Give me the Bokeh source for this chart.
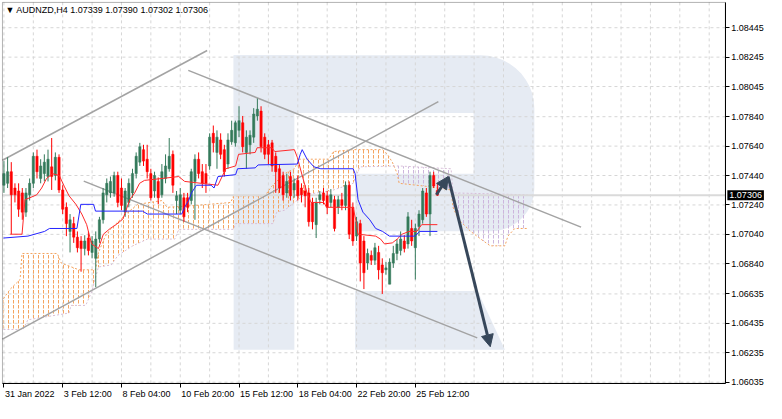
import numpy as np
from bokeh.plotting import figure
from bokeh.models import (FixedTicker, Label, Span, Arrow, NormalHead, Range1d, LinearAxis,
                          BoxAnnotation)
from bokeh.core.properties import value
from bokeh.embed import file_html
from bokeh.resources import INLINE

# ---------------- data (AUDNZD, H4) ----------------
opens = [1.07374, 1.07387, 1.07466, 1.07355, 1.07335, 1.07322, 1.07191, 1.07309, 1.07387, 1.07571,
         1.07420, 1.07453, 1.07433, 1.07499, 1.07440, 1.07564, 1.07342, 1.07224, 1.07060, 1.07113,
         1.07021, 1.06995, 1.06943, 1.07015, 1.06917, 1.06877, 1.07008, 1.07139, 1.07309, 1.07322,
         1.07322, 1.07440, 1.07355, 1.07191, 1.07257, 1.07322, 1.07453, 1.07531, 1.07616, 1.07551,
         1.07453, 1.07335, 1.07400, 1.07309, 1.07420, 1.07486, 1.07584, 1.07270, 1.07204, 1.07289,
         1.07289, 1.07270, 1.07400, 1.07551, 1.07466, 1.07453, 1.07505, 1.07727, 1.07597, 1.07682,
         1.07616, 1.07518, 1.07669, 1.07662, 1.07747, 1.07799, 1.07597, 1.07649, 1.07701, 1.07845,
         1.07878, 1.07701, 1.07649, 1.07662, 1.07571, 1.07486, 1.07440, 1.07322, 1.07433, 1.07342,
         1.07407, 1.07355, 1.07335, 1.07322, 1.07257, 1.07106, 1.07276, 1.07322, 1.07302, 1.07257,
         1.07276, 1.07224, 1.07276, 1.07237, 1.07374, 1.07224, 1.07028, 1.07113, 1.06995, 1.06845,
         1.06897, 1.06864, 1.06917, 1.06832, 1.06799, 1.06701, 1.06845, 1.06910, 1.06930, 1.06995,
         1.06975, 1.07080, 1.06949, 1.07093, 1.07139, 1.07322, 1.07178, 1.07440, 1.07339]
highs = [1.07538, 1.07564, 1.07531, 1.07387, 1.07387, 1.07355, 1.07355, 1.07420, 1.07597, 1.07616,
         1.07551, 1.07584, 1.07616, 1.07695, 1.07597, 1.07584, 1.07374, 1.07257, 1.07178, 1.07159,
         1.07060, 1.07028, 1.07034, 1.07060, 1.07028, 1.07060, 1.07159, 1.07355, 1.07420, 1.07433,
         1.07466, 1.07466, 1.07420, 1.07355, 1.07420, 1.07486, 1.07597, 1.07662, 1.07649, 1.07649,
         1.07486, 1.07466, 1.07427, 1.07518, 1.07584, 1.07695, 1.07610, 1.07335, 1.07355, 1.07322,
         1.07322, 1.07486, 1.07584, 1.07597, 1.07518, 1.07518, 1.07727, 1.07780, 1.07747, 1.07727,
         1.07649, 1.07727, 1.07813, 1.07813, 1.07911, 1.07845, 1.07747, 1.07747, 1.07898, 1.07963,
         1.07911, 1.07727, 1.07682, 1.07682, 1.07597, 1.07518, 1.07466, 1.07453, 1.07466, 1.07420,
         1.07440, 1.07387, 1.07374, 1.07355, 1.07289, 1.07289, 1.07335, 1.07355, 1.07335, 1.07348,
         1.07302, 1.07302, 1.07322, 1.07400, 1.07400, 1.07257, 1.07159, 1.07139, 1.07028, 1.06943,
         1.06930, 1.06982, 1.06962, 1.06877, 1.06851, 1.06877, 1.06962, 1.07008, 1.07060, 1.07034,
         1.07191, 1.07139, 1.07113, 1.07204, 1.07355, 1.07355, 1.07466, 1.07466, 1.07390]
lows = [1.07322, 1.07355, 1.07041, 1.07257, 1.07159, 1.07139, 1.07159, 1.07270, 1.07355, 1.07420,
        1.07387, 1.07400, 1.07400, 1.07342, 1.07407, 1.07322, 1.07178, 1.07028, 1.06917, 1.06982,
        1.06917, 1.06786, 1.06897, 1.06897, 1.06877, 1.06681, 1.06982, 1.07113, 1.07257, 1.07289,
        1.07296, 1.07224, 1.07204, 1.07159, 1.07224, 1.07289, 1.07420, 1.07505, 1.07505, 1.07420,
        1.07270, 1.07289, 1.07244, 1.07289, 1.07387, 1.07466, 1.07322, 1.07178, 1.07178, 1.07126,
        1.07191, 1.07244, 1.07139, 1.07420, 1.07355, 1.07322, 1.07479, 1.07597, 1.07486, 1.07551,
        1.07433, 1.07486, 1.07649, 1.07636, 1.07701, 1.07597, 1.07486, 1.07584, 1.07662, 1.07813,
        1.07597, 1.07551, 1.07518, 1.07466, 1.07322, 1.07322, 1.07270, 1.07289, 1.07270, 1.07289,
        1.07270, 1.07257, 1.07224, 1.07093, 1.07074, 1.07015, 1.07244, 1.07244, 1.07178, 1.07224,
        1.07060, 1.07178, 1.07204, 1.07204, 1.07008, 1.06962, 1.06995, 1.06720, 1.06668, 1.06799,
        1.06832, 1.06832, 1.06733, 1.06635, 1.06766, 1.06701, 1.06812, 1.06864, 1.06897, 1.06917,
        1.06943, 1.06962, 1.06733, 1.07028, 1.07113, 1.07159, 1.07028, 1.07355, 1.07302]
closes = [1.07453, 1.07466, 1.07309, 1.07309, 1.07211, 1.07191, 1.07322, 1.07387, 1.07571, 1.07466,
          1.07505, 1.07531, 1.07551, 1.07433, 1.07564, 1.07342, 1.07211, 1.07113, 1.07139, 1.07021,
          1.06949, 1.06943, 1.06995, 1.06930, 1.06995, 1.07008, 1.07139, 1.07322, 1.07387, 1.07400,
          1.07440, 1.07257, 1.07237, 1.07335, 1.07387, 1.07453, 1.07571, 1.07636, 1.07538, 1.07466,
          1.07289, 1.07440, 1.07289, 1.07466, 1.07505, 1.07571, 1.07374, 1.07302, 1.07309, 1.07159,
          1.07224, 1.07466, 1.07551, 1.07453, 1.07387, 1.07387, 1.07701, 1.07662, 1.07701, 1.07584,
          1.07466, 1.07682, 1.07747, 1.07799, 1.07813, 1.07636, 1.07701, 1.07714, 1.07858, 1.07891,
          1.07636, 1.07584, 1.07584, 1.07505, 1.07466, 1.07355, 1.07309, 1.07400, 1.07302, 1.07387,
          1.07302, 1.07309, 1.07302, 1.07126, 1.07126, 1.07257, 1.07309, 1.07270, 1.07224, 1.07309,
          1.07080, 1.07276, 1.07237, 1.07374, 1.07041, 1.06995, 1.07126, 1.06845, 1.06779, 1.06910,
          1.06864, 1.06949, 1.06799, 1.06779, 1.06812, 1.06851, 1.06910, 1.06975, 1.07008, 1.06943,
          1.07159, 1.06995, 1.07080, 1.07178, 1.07335, 1.07178, 1.07440, 1.07368, 1.07306]

# Ichimoku lines (vertices: bar index, price)
tenkan_x = [1.73, 4.93, 5.73, 7.07, 8.93, 10.27, 11.6, 13.2, 15.07, 16.4, 17.73, 19.6, 21.2, 22.53, 23.87,
            25.73, 27.07, 28.93, 30.53, 32.4, 34.27, 35.6, 36.93, 38.27, 43.07, 47.6, 49.2, 53.73, 58.27,
            60.4, 63.07, 63.87, 68.4, 68.93, 72.93, 73.73, 79.07, 79.87, 81.2, 82.53, 83.6, 87.07, 87.87,
            95.07, 95.87, 96.4, 101.2, 102.53, 103.6, 105.73, 107.07, 108.4, 110.27, 112.4, 113.73, 118]
tenkan_y = [1.07041, 1.07041, 1.07276, 1.07289, 1.07309, 1.07355, 1.07420, 1.07453, 1.07440, 1.07368,
            1.07302, 1.07244, 1.07178, 1.07106, 1.06975, 1.06943, 1.07041, 1.07080, 1.07106, 1.07145,
            1.07276, 1.07322, 1.07387, 1.07407, 1.07420, 1.07433, 1.07400, 1.07387, 1.07374, 1.07486,
            1.07505, 1.07584, 1.07597, 1.07629, 1.07629, 1.07603, 1.07616, 1.07564, 1.07440, 1.07322,
            1.07257, 1.07257, 1.07224, 1.07224, 1.07126, 1.07041, 1.07028, 1.07008, 1.06975, 1.06982,
            1.07008, 1.07041, 1.07060, 1.07060, 1.07106, 1.07106]
kijun_x = [-0.13, 6.53, 11.07, 12.4, 19.87, 20.93, 24.4, 24.93, 37.73, 39.07, 48.4, 49.2, 50.27, 51.07,
           52.4, 56.4, 57.2, 58.27, 63.07, 63.6, 68.4, 69.2, 79.87, 80.67, 81.2, 82.53, 84.4, 86.27,
           95.07, 95.6, 96.4, 97.73, 99.6, 101.2, 103.07, 104.93, 111.87, 113.2, 118]
kijun_y = [1.07015, 1.07028, 1.07060, 1.07080, 1.07080, 1.07244, 1.07244, 1.07198, 1.07198, 1.07178,
           1.07178, 1.07224, 1.07270, 1.07322, 1.07374, 1.07374, 1.07355, 1.07433, 1.07446, 1.07486,
           1.07492, 1.07512, 1.07518, 1.07584, 1.07616, 1.07551, 1.07499, 1.07486, 1.07486, 1.07453,
           1.07276, 1.07191, 1.07139, 1.07080, 1.07060, 1.07028, 1.07028, 1.07060, 1.07060]
span_a_x = [-0.13, 1.73, 4.4, 4.93, 14.53, 15.6, 20.4, 24.93, 25.73, 27.6, 29.2, 31.87, 33.2, 36.4, 43.07,
            44.4, 52.4, 61.73, 62.53, 71.07, 72.93, 76.4, 79.07, 80.4, 88.4, 89.73, 95.07, 103.07, 104.4,
            105.73, 107.07, 107.6, 114.53, 121.73, 122.27, 123.6, 127.07, 130.53, 132.4, 136.4, 137.2,
            139.07, 142.53]
span_a_y = [1.06603, 1.06668, 1.06733, 1.06910, 1.06910, 1.06845, 1.06799, 1.06799, 1.06917, 1.07028,
            1.07080, 1.07145, 1.07178, 1.07244, 1.07270, 1.07224, 1.07237, 1.07257, 1.07302, 1.07302,
            1.07368, 1.07453, 1.07486, 1.07551, 1.07551, 1.07603, 1.07616, 1.07616, 1.07584, 1.07531,
            1.07453, 1.07387, 1.07368, 1.07342, 1.07224, 1.07145, 1.07060, 1.06995, 1.06962, 1.06962,
            1.07028, 1.07080, 1.07080]
span_b_x = [-0.13, 5.2, 6.53, 17.73, 18.27, 22.27, 23.87, 25.73, 29.2, 31.07, 35.07, 39.07, 46.53, 47.6,
            62.53, 63.07, 73.2, 74.27, 76.4, 81.73, 88.93, 95.07, 96.93, 107.6, 121.73, 122.27, 142.53]
span_b_y = [1.06393, 1.06393, 1.06459, 1.06505, 1.06557, 1.06557, 1.06648, 1.06818, 1.06832, 1.06897,
            1.06962, 1.07008, 1.07008, 1.07074, 1.07074, 1.07113, 1.07113, 1.07191, 1.07204, 1.07309,
            1.07335, 1.07387, 1.07499, 1.07505, 1.07486, 1.07322, 1.07309]

# analyst drawings (bar index, price)
trend_x0 = [-0.4, -0.4, 50.19, 21.73]
trend_y0 = [1.07544, 1.06328, 1.08155, 1.07402]
trend_x1 = [55.33, 118.27, 157.12, 128.85]
trend_y1 = [1.08290, 1.07943, 1.07089, 1.06336]
arrow_x = [117.73, 120.93, 132.4]
arrow_y = [1.07309, 1.07433, 1.06276]

x_tick_idx = [0, 16, 32, 48, 64, 80, 96, 112]
x_tick_labels = ["31 Jan 2022", "3 Feb 12:00", "8 Feb 04:00", "10 Feb 20:00",
                 "15 Feb 12:00", "18 Feb 04:00", "22 Feb 20:00", "25 Feb 12:00"]
y_tick_labels = ["1.06035", "1.06235", "1.06435", "1.06635", "1.06840", "1.07040", "1.07240",
                 "1.07440", "1.07640", "1.07840", "1.08045", "1.08245", "1.08445"]
last_price = 1.07306
last_price_text = "1.07306"
title_text = "\u25bc AUDNZD,H4  1.07339 1.07390 1.07302 1.07306"

# ---------------- styling / layout ----------------
BULL = "#347a5b"
BEAR = "#ff0000"
FONT = "Liberation Sans"
WM = "#e6ebf3"

# chart area (bar index / price) and whole canvas range
CX0, CX1 = -0.4, 196.4
CY0, CY1 = 1.06027, 1.08617
VX0, VX1 = -0.933, 207.6
VY0, VY1 = 1.05890, 1.08630

p = figure(width=766, height=403, x_range=Range1d(VX0, VX1), y_range=Range1d(VY0, VY1),
           x_axis_location=None, y_axis_location=None, output_backend="svg", toolbar_location=None,
           min_border_left=0, min_border_top=0, min_border_right=0, min_border_bottom=0,
           background_fill_color="white", border_fill_color="white")
p.outline_line_color = None
p.xgrid.visible = False
p.ygrid.visible = False

# watermark logo (decoration placed by reference-pixel helper)
def px_i(x):
    return (x - 3.5) / 3.75

def px_p(y):
    return 1.07322 + (200 - y) * 0.0000654

t = np.linspace(0, np.pi / 2, 12)
bowl = [(238, 57), (490, 57)]
bowl += [(490 + 55 * np.sin(a), 112 - 55 * np.cos(a)) for a in t]
bowl += [(545, 195)]
bowl += [(500 + 45 * np.cos(a), 195 + 45 * np.sin(a)) for a in t]
bowl += [(362, 240), (362, 180), (483, 180), (483, 117), (238, 117)]
leftbar = [(238, 57), (300, 57), (300, 363), (238, 363)]
leg = [(362, 302), (487, 302), (515, 363), (362, 363)]
polys = [bowl, leftbar, leg]
p.patches([[px_i(a) for a, b in pl] for pl in polys], [[px_p(b) for a, b in pl] for pl in polys],
          fill_color=WM, line_color=None)

# grid (dashed, inside chart area only)
y_ticks = [float(s) for s in y_tick_labels]
grid_x = list(range(0, 193, 8))
p.segment(grid_x, [CY0] * len(grid_x), grid_x, [CY1] * len(grid_x),
          line_color="#d6d6d6", line_dash="3 3", line_width=1)
p.segment([CX0] * len(y_ticks), y_ticks, [CX1] * len(y_ticks), y_ticks,
          line_color="#d6d6d6", line_dash="3 3", line_width=1)

# cloud
xx = np.arange(span_a_x[0], span_a_x[-1] + 0.001, 0.05)
A = np.interp(xx, span_a_x, span_a_y)
B = np.interp(xx, span_b_x, span_b_y)
top = np.maximum(A, B)
p.varea(x=xx, y1=B, y2=top, fill_alpha=0, hatch_pattern="vertical_dash",
        hatch_color="#f4a460", hatch_scale=5, hatch_weight=1)
p.varea(x=xx, y1=A, y2=top, fill_alpha=0, hatch_pattern="vertical_dash",
        hatch_color="#cdb5dd", hatch_scale=5, hatch_weight=1)
p.line(span_a_x, span_a_y, line_color="#f4a460", line_dash="2 2", line_width=1)
p.line(span_b_x, span_b_y, line_color="#d8bfd8", line_dash="2 2", line_width=1)

# current price line
p.segment([CX0], [last_price], [CX1], [last_price], line_color="#dadada", line_width=2)

# trend lines
p.segment(trend_x0, trend_y0, trend_x1, trend_y1, line_color="#a3a3a3", line_width=1.5)

# candles
o = np.array(opens); c = np.array(closes); h = np.array(highs); l = np.array(lows)
idx = np.arange(len(c))
cols = np.where(c >= o, BULL, BEAR)
p.segment(idx, h, idx, l, line_color=cols, line_width=1)
p.vbar(x=idx, top=np.maximum(o, c), bottom=np.minimum(o, c), width=0.62,
       fill_color=cols, line_color=cols, line_width=0.5)

# ichimoku lines
p.line(tenkan_x, tenkan_y, line_color="#ff2a2a", line_width=1)
p.line(kijun_x, kijun_y, line_color="#2323ff", line_width=1)

# forecast arrows
AC = "#37475a"
for k in range(2):
    p.add_layout(Arrow(end=NormalHead(size=12, fill_color=AC, line_color=AC),
                       x_start=arrow_x[k], y_start=arrow_y[k], x_end=arrow_x[k + 1], y_end=arrow_y[k + 1],
                       line_color=AC, line_width=3))

# chart border (left/top) - right/bottom are axis lines
p.add_layout(BoxAnnotation(left=CX0, right=CX1, bottom=CY0, top=CY1, fill_alpha=0,
                           line_color="black", line_width=1))

# axes fixed at chart edges
yaxis = LinearAxis(fixed_location=CX1, ticker=FixedTicker(ticks=y_ticks),
                   major_label_overrides={v: s for v, s in zip(y_ticks, y_tick_labels)},
                   bounds=(CY0, CY1))
xaxis = LinearAxis(fixed_location=CY0, ticker=FixedTicker(ticks=x_tick_idx),
                   major_label_overrides={v: "" for v in x_tick_idx}, bounds=(CX0, CX1))
for ax in (xaxis, yaxis):
    ax.axis_line_color = "black"
    ax.major_tick_line_color = "black"
    ax.major_tick_out = 4
    ax.major_tick_in = 0
    ax.minor_tick_line_color = None
    ax.major_label_text_font = FONT
    ax.major_label_text_font_size = "9px"
    ax.major_label_text_color = "black"
    ax.major_label_standoff = 2
p.add_layout(yaxis, "right")
p.add_layout(xaxis, "below")

# x tick labels, left-aligned at their ticks
p.text(x=x_tick_idx, y=[CY0] * len(x_tick_idx), text=x_tick_labels, text_align="left",
       text_baseline="top", x_offset=1, y_offset=6, text_font=value(FONT),
       text_font_size="9px", text_color="black")

# price tag and title
p.add_layout(Label(x=CX1, y=last_price, text=last_price_text, x_offset=2, text_baseline="middle",
                   text_font=FONT, text_font_size="9px", text_color="white",
                   background_fill_color="black", padding=2))
p.add_layout(Label(x=0.4, y=px_p(10), text=title_text, text_baseline="middle",
                   text_font=FONT, text_font_size="9px", text_color="black"))

open("out.html", "w").write(file_html(p, INLINE))
